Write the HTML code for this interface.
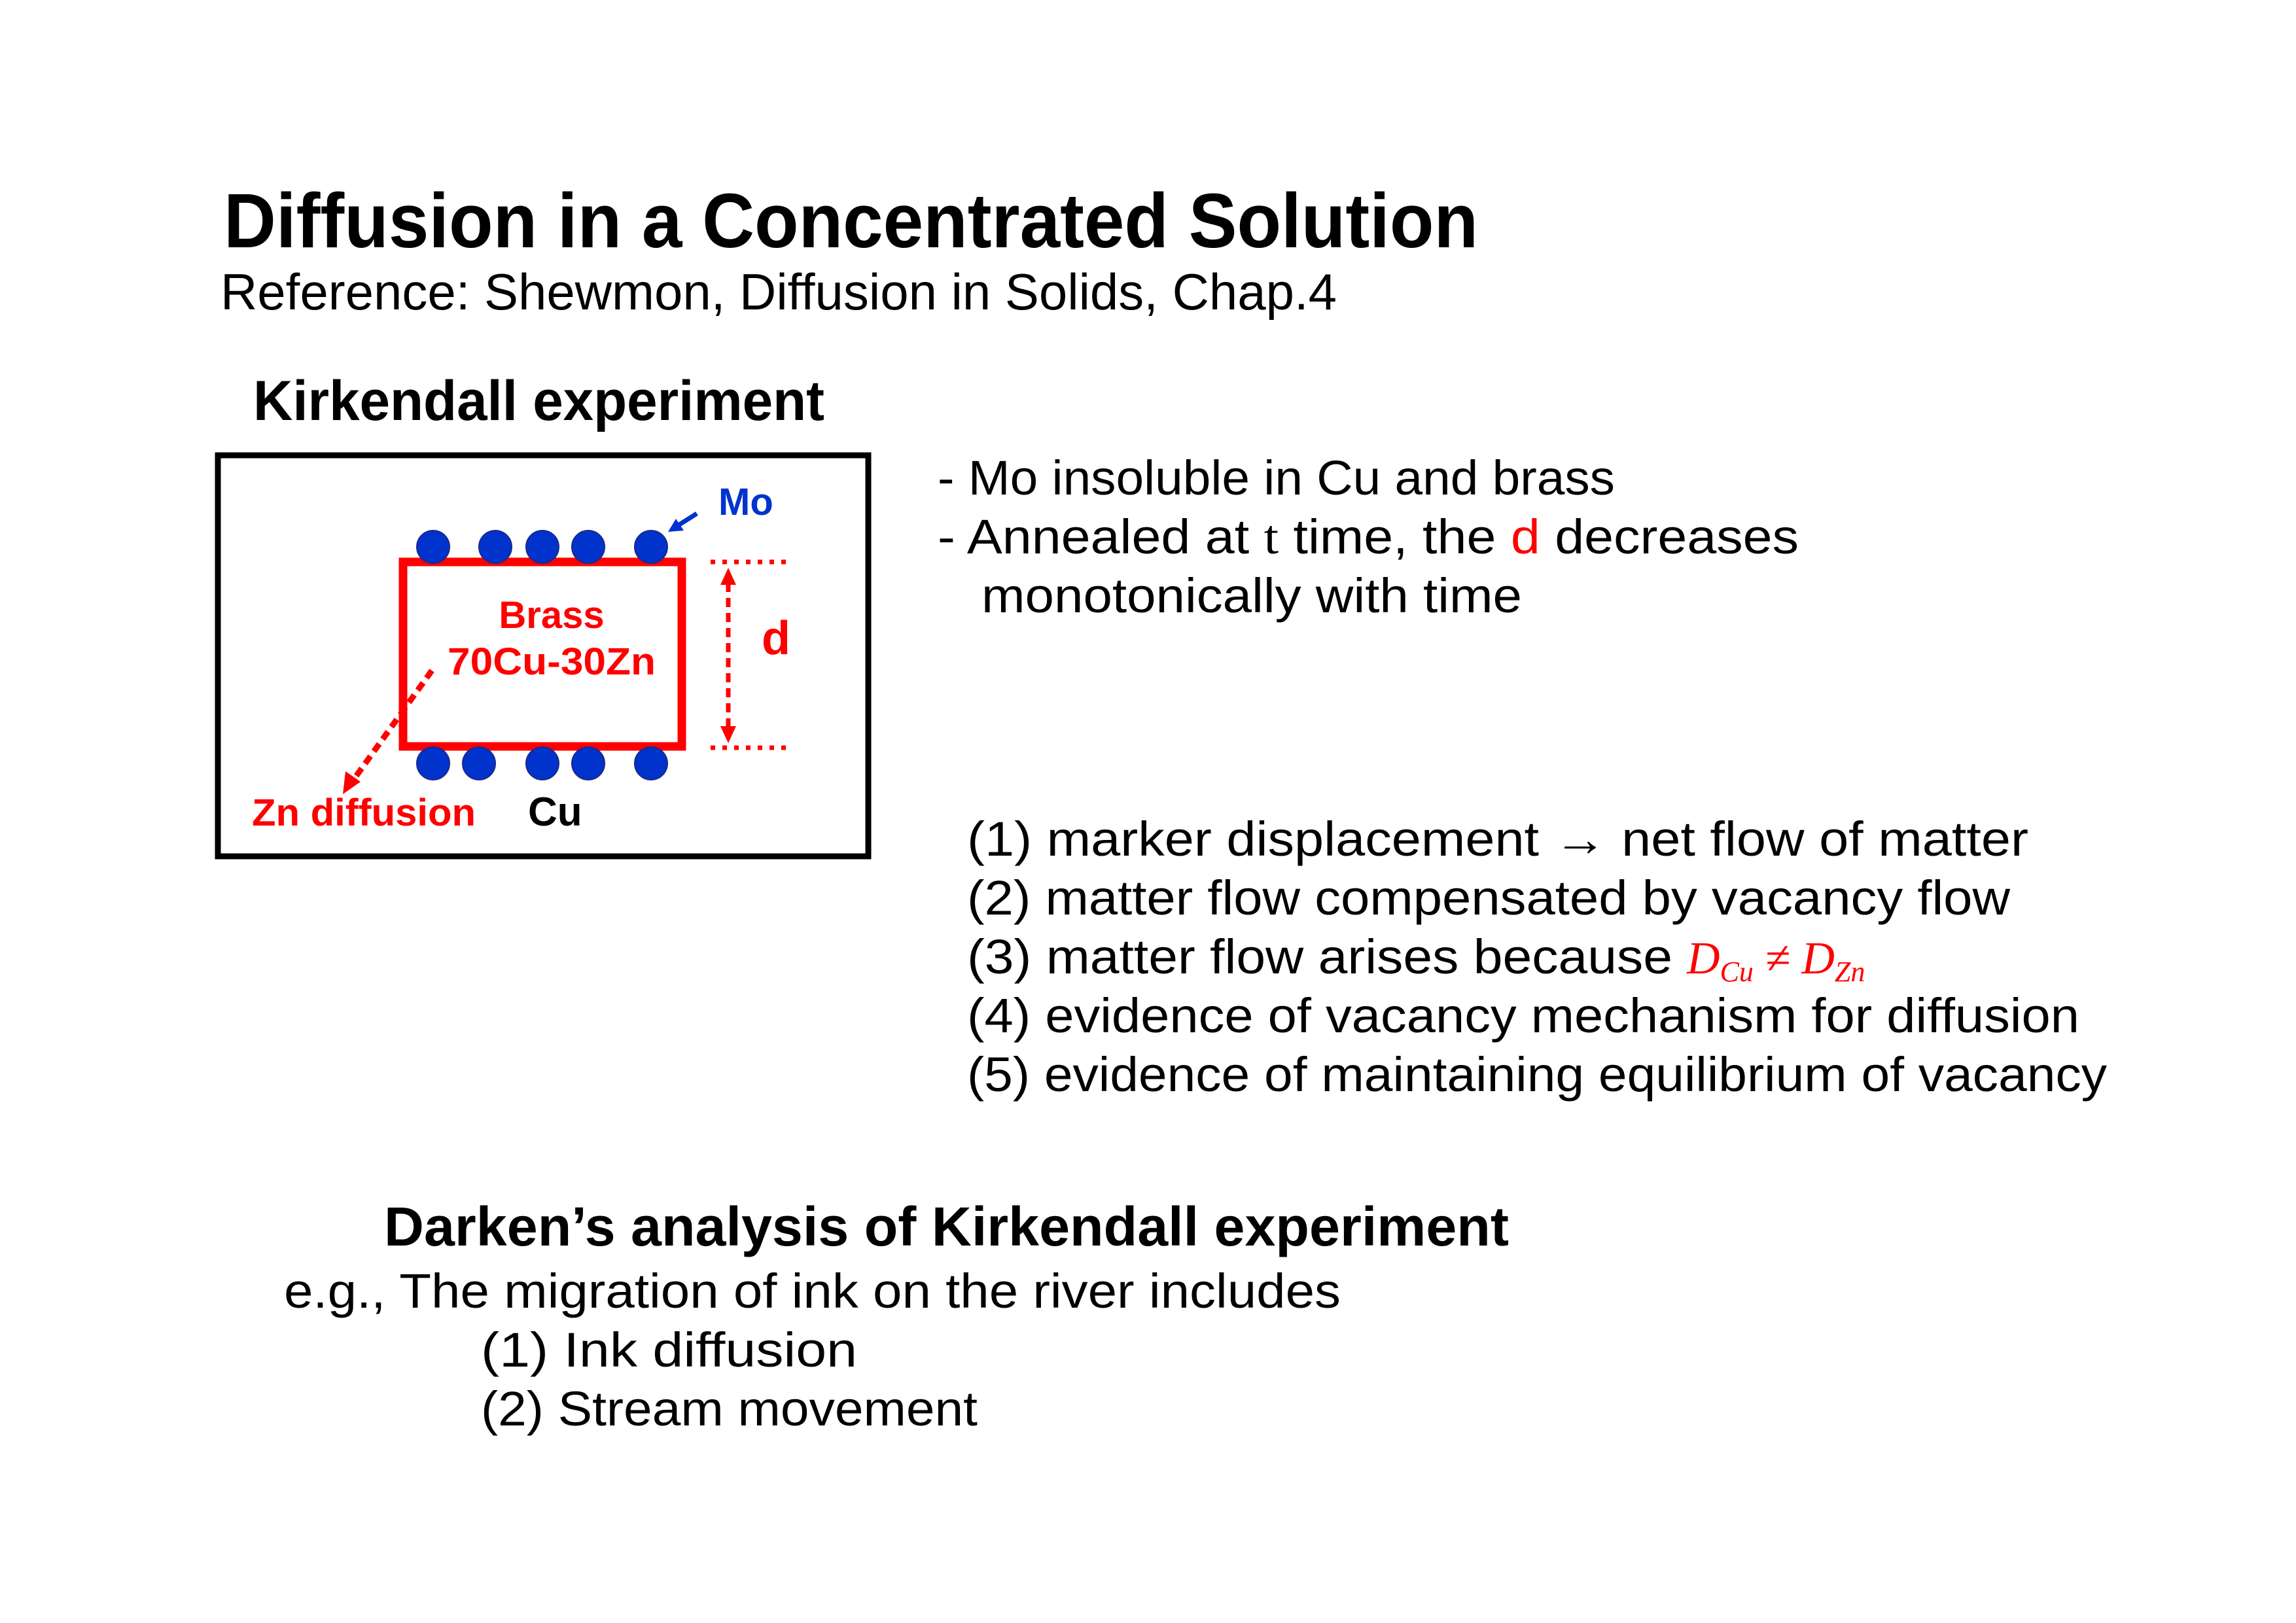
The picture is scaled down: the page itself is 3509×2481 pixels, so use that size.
<!DOCTYPE html>
<html><head><meta charset="utf-8"><style>html,body{margin:0;padding:0;background:#fff}svg{display:block}</style></head>
<body>
<svg width="3509" height="2481" viewBox="0 0 3509 2481" xmlns="http://www.w3.org/2000/svg" font-family="Liberation Sans, sans-serif">
<rect width="3509" height="2481" fill="#fff"/>
<g transform="translate(-7,-4)">
<text x="349" y="382" font-size="118" font-weight="bold" textLength="1917" lengthAdjust="spacingAndGlyphs">Diffusion in a Concentrated Solution</text>
<text x="344" y="477" font-size="78" textLength="1706" lengthAdjust="spacingAndGlyphs">Reference: Shewmon, Diffusion in Solids, Chap.4</text>
<text x="394" y="646" font-size="86" font-weight="bold" textLength="873" lengthAdjust="spacingAndGlyphs">Kirkendall experiment</text>

<rect x="340" y="700" width="994" height="613" fill="none" stroke="#000" stroke-width="9"/>
<rect x="623" y="863" width="426" height="282" fill="none" stroke="#f00" stroke-width="13"/>
<g fill="#0033cc" stroke="#1a2a88" stroke-width="2">
<circle cx="669" cy="840" r="25"/><circle cx="764" cy="840" r="25"/><circle cx="836" cy="840" r="25"/><circle cx="906" cy="840" r="25"/><circle cx="1002" cy="840" r="25"/>
<circle cx="669" cy="1171" r="25"/><circle cx="739" cy="1171" r="25"/><circle cx="836" cy="1171" r="25"/><circle cx="906" cy="1171" r="25"/><circle cx="1002" cy="1171" r="25"/>
</g>
<text x="1105" y="791" font-size="58" font-weight="bold" fill="#0033cc">Mo</text>
<line x1="1072" y1="789" x2="1042" y2="808" stroke="#0033cc" stroke-width="7"/>
<polygon points="1028,817 1040,797 1052,815" fill="#0033cc"/>
<g stroke="#f00" stroke-width="7" stroke-dasharray="7,11" fill="none">
<line x1="1093" y1="863" x2="1215" y2="863"/>
<line x1="1093" y1="1147" x2="1215" y2="1147"/>
<line x1="1120" y1="895" x2="1120" y2="1115" stroke-dasharray="14,9"/>
<line x1="667" y1="1029" x2="548" y2="1195" stroke-width="9" stroke-dasharray="14,9"/>
</g>
<polygon points="1120,872 1108,898 1132,898" fill="#f00"/>
<polygon points="1120,1140 1108,1114 1132,1114" fill="#f00"/>
<polygon points="531,1218 535,1183 558,1199" fill="#f00"/>
<text x="1171" y="1004" font-size="72" font-weight="bold" fill="#f00">d</text>
<text x="850" y="964" font-size="58" font-weight="bold" fill="#f00" text-anchor="middle">Brass</text>
<text x="850" y="1035" font-size="58" font-weight="bold" fill="#f00" text-anchor="middle" textLength="318" lengthAdjust="spacingAndGlyphs">70Cu-30Zn</text>
<text x="392" y="1266" font-size="58" font-weight="bold" fill="#f00" textLength="342" lengthAdjust="spacingAndGlyphs">Zn diffusion</text>
<text x="814" y="1266" font-size="62" font-weight="bold" fill="#000">Cu</text>

<g font-size="74">
<text x="1440" y="760" textLength="1035" lengthAdjust="spacingAndGlyphs">- Mo insoluble in Cu and brass</text>
<text x="1440" y="850" textLength="1316" lengthAdjust="spacingAndGlyphs">- Annealed at <tspan font-family="Liberation Serif, serif">t</tspan> time, the <tspan fill="#f00">d</tspan> decreases</text>
<text x="1507" y="940" textLength="826" lengthAdjust="spacingAndGlyphs">monotonically with time</text>
<text x="1485" y="1312" textLength="1622" lengthAdjust="spacingAndGlyphs">(1) marker displacement → net flow of matter</text>
<text x="1485" y="1402" textLength="1594" lengthAdjust="spacingAndGlyphs">(2) matter flow compensated by vacancy flow</text>
<text x="1485" y="1492" textLength="1078" lengthAdjust="spacingAndGlyphs">(3) matter flow arises because</text>
<text x="2585" y="1492" font-family="Liberation Serif, serif" font-style="italic" fill="#f00" font-size="70">D<tspan font-size="44" dy="12">Cu</tspan><tspan dy="-12"> ≠ D</tspan><tspan font-size="44" dy="12">Zn</tspan></text>
<text x="1485" y="1582" textLength="1700" lengthAdjust="spacingAndGlyphs">(4) evidence of vacancy mechanism for diffusion</text>
<text x="1485" y="1672" textLength="1742" lengthAdjust="spacingAndGlyphs">(5) evidence of maintaining equilibrium of vacancy</text>
</g>
<text x="594" y="1908" font-size="84" font-weight="bold" textLength="1719" lengthAdjust="spacingAndGlyphs">Darken’s analysis of Kirkendall experiment</text>
<g font-size="74">
<text x="441" y="2003" textLength="1615" lengthAdjust="spacingAndGlyphs">e.g., The migration of ink on the river includes</text>
<text x="742" y="2093" textLength="575" lengthAdjust="spacingAndGlyphs">(1) Ink diffusion</text>
<text x="742" y="2183" textLength="759" lengthAdjust="spacingAndGlyphs">(2) Stream movement</text>
</g>
</g>
</svg>
</body></html>
